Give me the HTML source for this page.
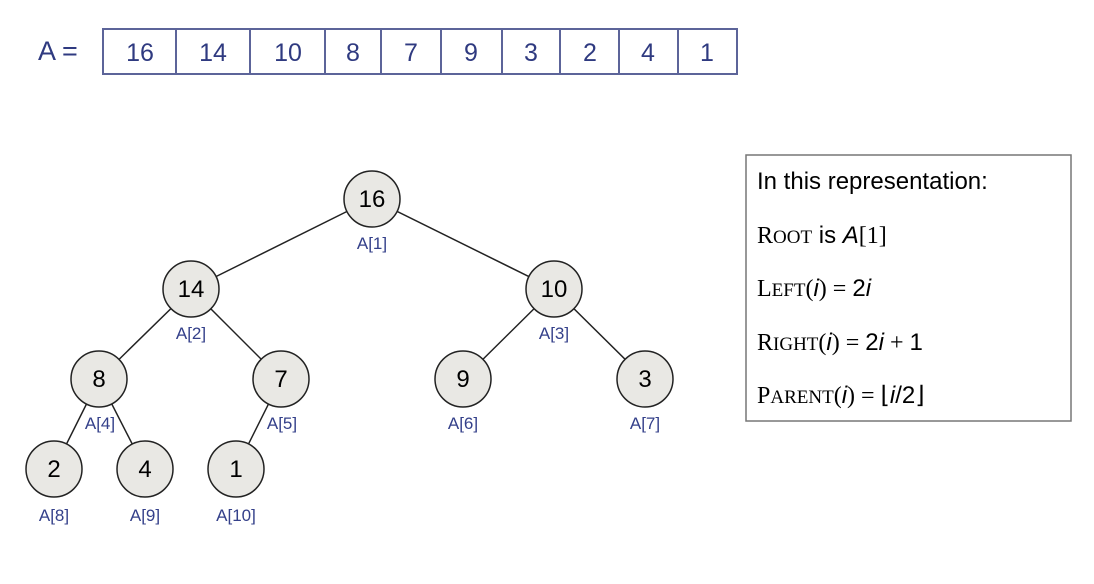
<!DOCTYPE html>
<html><head><meta charset="utf-8"><style>
body{margin:0;background:#fff;}
svg{display:block}
.n{font-family:"Liberation Sans",sans-serif;font-size:24px;fill:#000;text-anchor:middle}
.a{font-family:"Liberation Sans",sans-serif;font-size:17px;fill:#34408a;text-anchor:middle}
.c{font-family:"Liberation Sans",sans-serif;font-size:25px;fill:#2f3a80;text-anchor:middle}
.t{font-family:"Liberation Sans",sans-serif;font-size:24px;fill:#000}
.s{font-family:"Liberation Serif",serif}
</style></head><body>
<svg width="1094" height="584" viewBox="0 0 1094 584">
<text x="38" y="60" style="font-family:'Liberation Sans',sans-serif;font-size:27px;fill:#2f3a80">A =</text>
<rect x="103" y="29" width="634" height="45" fill="#fff" stroke="#5c6499" stroke-width="2"/>
<g stroke="#5c6499" stroke-width="2">
<line x1="176" y1="29" x2="176" y2="74"/><line x1="250" y1="29" x2="250" y2="74"/><line x1="325" y1="29" x2="325" y2="74"/><line x1="381" y1="29" x2="381" y2="74"/><line x1="441" y1="29" x2="441" y2="74"/><line x1="502" y1="29" x2="502" y2="74"/><line x1="560" y1="29" x2="560" y2="74"/><line x1="619" y1="29" x2="619" y2="74"/><line x1="678" y1="29" x2="678" y2="74"/>
</g>
<text x="140" y="61" class="c">16</text><text x="213" y="61" class="c">14</text><text x="288" y="61" class="c">10</text><text x="353" y="61" class="c">8</text><text x="411" y="61" class="c">7</text><text x="471" y="61" class="c">9</text><text x="531" y="61" class="c">3</text><text x="590" y="61" class="c">2</text><text x="648" y="61" class="c">4</text><text x="707" y="61" class="c">1</text>
<g stroke="#222" stroke-width="1.5">
<line x1="372" y1="199" x2="191" y2="289"/><line x1="372" y1="199" x2="554" y2="289"/>
<line x1="191" y1="289" x2="99" y2="379"/><line x1="191" y1="289" x2="281" y2="379"/>
<line x1="554" y1="289" x2="463" y2="379"/><line x1="554" y1="289" x2="645" y2="379"/>
<line x1="99" y1="379" x2="54" y2="469"/><line x1="99" y1="379" x2="145" y2="469"/>
<line x1="281" y1="379" x2="236" y2="469"/>
</g>
<g fill="#e9e8e4" stroke="#222" stroke-width="1.5">
<circle cx="372" cy="199" r="28"/><circle cx="191" cy="289" r="28"/><circle cx="554" cy="289" r="28"/>
<circle cx="99" cy="379" r="28"/><circle cx="281" cy="379" r="28"/><circle cx="463" cy="379" r="28"/><circle cx="645" cy="379" r="28"/>
<circle cx="54" cy="469" r="28"/><circle cx="145" cy="469" r="28"/><circle cx="236" cy="469" r="28"/>
</g>
<text class="n" x="372" y="207">16</text><text class="n" x="191" y="297">14</text><text class="n" x="554" y="297">10</text>
<text class="n" x="99" y="387">8</text><text class="n" x="281" y="387">7</text><text class="n" x="463" y="387">9</text><text class="n" x="645" y="387">3</text>
<text class="n" x="54" y="477">2</text><text class="n" x="145" y="477">4</text><text class="n" x="236" y="477">1</text>
<text class="a" x="372" y="249">A[1]</text>
<text class="a" x="191" y="339">A[2]</text>
<text class="a" x="554" y="339">A[3]</text>
<text class="a" x="100" y="429">A[4]</text>
<text class="a" x="282" y="429">A[5]</text>
<text class="a" x="463" y="429">A[6]</text><text class="a" x="645" y="429">A[7]</text>
<text class="a" x="54" y="521">A[8]</text><text class="a" x="145" y="521">A[9]</text><text class="a" x="236" y="521">A[10]</text>
<rect x="746" y="155" width="325" height="266" fill="#fff" stroke="#777" stroke-width="1.5"/>
<text class="t" x="757" y="189">In this representation:</text>
<text class="t" x="757" y="243"><tspan class="s">R<tspan font-size="19">OOT</tspan></tspan> is <tspan font-style="italic">A</tspan><tspan class="s">[1]</tspan></text>
<text class="t" x="757" y="296"><tspan class="s">L<tspan font-size="19">EFT</tspan>(</tspan><tspan font-style="italic">i</tspan><tspan class="s">) = </tspan>2<tspan font-style="italic">i</tspan></text>
<text class="t" x="757" y="350"><tspan class="s">R<tspan font-size="19">IGHT</tspan>(</tspan><tspan font-style="italic">i</tspan><tspan class="s">) = </tspan>2<tspan font-style="italic">i</tspan><tspan class="s"> + </tspan>1</text>
<text class="t" x="757" y="403"><tspan class="s">P<tspan font-size="19">ARENT</tspan>(</tspan><tspan font-style="italic">i</tspan><tspan class="s">) = ⌊</tspan><tspan font-style="italic">i</tspan>/2<tspan class="s">⌋</tspan></text>
</svg>
</body></html>
